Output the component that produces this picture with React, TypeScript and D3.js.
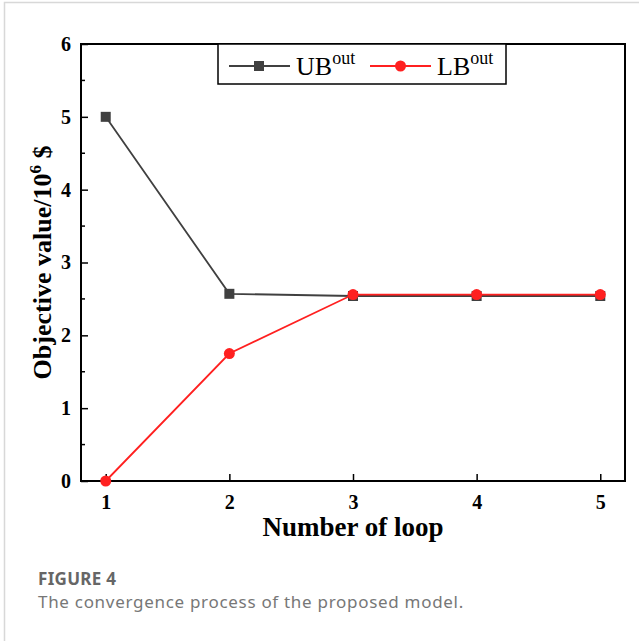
import React, { useRef, useEffect } from 'react';
import * as d3 from 'd3';

// chart data
const loops = [1, 2, 3, 4, 5];
const ubValues = [5, 2.57, 2.54, 2.54, 2.54];
const lbValues = [0, 1.75, 2.56, 2.56, 2.56];
const yTicks = [0, 1, 2, 3, 4, 5, 6];
const yMinorTicks = [0.5, 1.5, 2.5, 3.5, 4.5, 5.5];

const W = 639;
const H = 641;

const App = () => {
  const svgRef = useRef<SVGSVGElement>(null);

  useEffect(() => {
    const svg = d3.select(svgRef.current);
    svg.selectAll('*').remove();

    const margin = { top: 44, right: 14, bottom: 160, left: 81 };
    const width = W - margin.left - margin.right;
    const height = H - margin.top - margin.bottom;

    // frame of the figure panel
    svg.append('path')
      .attr('d', `M4.5,${H} V2.5 H${W}`)
      .attr('fill', 'none')
      .attr('stroke', '#d8d8d8')
      .attr('stroke-width', 1.5);

    const g = svg.append('g')
      .attr('transform', `translate(${margin.left},${margin.top})`);

    const x = d3.scaleLinear().domain([0.8, 5.2]).range([0, width]);
    const y = d3.scaleLinear().domain([0, 6]).range([height, 0]);

    const serif = '"Liberation Serif", "Times New Roman", serif';

    // x axis (ticks inward)
    const xAxis = g.append('g')
      .attr('transform', `translate(0,${height})`)
      .call(d3.axisBottom(x).tickValues(loops).tickSizeInner(-7).tickSizeOuter(0).tickPadding(14).tickFormat(d3.format('d')));
    xAxis.select('.domain').remove();

    // y axis (ticks inward)
    const yAxis = g.append('g')
      .call(d3.axisLeft(y).tickValues(yTicks).tickSizeInner(-7).tickSizeOuter(0).tickPadding(10).tickFormat(d3.format('d')));
    yAxis.select('.domain').remove();

    g.append('g')
      .selectAll('line')
      .data(yMinorTicks)
      .enter()
      .append('line')
      .attr('x1', 0)
      .attr('x2', 4)
      .attr('y1', d => y(d))
      .attr('y2', d => y(d))
      .attr('stroke', '#000')
      .attr('stroke-width', 1.5);

    [xAxis, yAxis].forEach(ax => {
      ax.selectAll('line').attr('stroke', '#000').attr('stroke-width', 1.5);
      ax.selectAll('text')
        .attr('fill', '#000')
        .style('font-family', serif)
        .style('font-size', '20px')
        .style('font-weight', 'bold');
    });

    // plot frame
    g.append('rect')
      .attr('x', 0)
      .attr('y', 0)
      .attr('width', width)
      .attr('height', height)
      .attr('fill', 'none')
      .attr('stroke', '#000')
      .attr('stroke-width', 2);

    const ubData = loops.map((l, i) => [l, ubValues[i]] as [number, number]);
    const lbData = loops.map((l, i) => [l, lbValues[i]] as [number, number]);

    const line = d3.line<[number, number]>()
      .x(d => x(d[0]))
      .y(d => y(d[1]));

    const ubColor = '#404040';
    const lbColor = '#ff2020';

    g.append('path')
      .datum(ubData)
      .attr('d', line)
      .attr('fill', 'none')
      .attr('stroke', ubColor)
      .attr('stroke-width', 1.8);

    g.append('path')
      .datum(lbData)
      .attr('d', line)
      .attr('fill', 'none')
      .attr('stroke', lbColor)
      .attr('stroke-width', 1.8);

    g.selectAll('rect.ub')
      .data(ubData)
      .enter()
      .append('rect')
      .attr('class', 'ub')
      .attr('x', d => x(d[0]) - 5)
      .attr('y', d => y(d[1]) - 5)
      .attr('width', 10)
      .attr('height', 10)
      .attr('fill', ubColor);

    g.selectAll('circle.lb')
      .data(lbData)
      .enter()
      .append('circle')
      .attr('class', 'lb')
      .attr('cx', d => x(d[0]))
      .attr('cy', d => y(d[1]))
      .attr('r', 5.5)
      .attr('fill', lbColor);

    // legend
    const lg = svg.append('g').attr('transform', 'translate(218,44)');
    lg.append('rect')
      .attr('width', 288)
      .attr('height', 40)
      .attr('fill', '#fff')
      .attr('stroke', '#000')
      .attr('stroke-width', 1.5);

    const items = [
      { name: 'UB', color: ubColor, shape: 'square', x0: 11 },
      { name: 'LB', color: lbColor, shape: 'circle', x0: 152 },
    ];
    items.forEach(it => {
      lg.append('line')
        .attr('x1', it.x0)
        .attr('x2', it.x0 + 61)
        .attr('y1', 22)
        .attr('y2', 22)
        .attr('stroke', it.color)
        .attr('stroke-width', 1.8);
      if (it.shape === 'square') {
        lg.append('rect')
          .attr('x', it.x0 + 25)
          .attr('y', 17)
          .attr('width', 10)
          .attr('height', 10)
          .attr('fill', it.color);
      } else {
        lg.append('circle')
          .attr('cx', it.x0 + 30.5)
          .attr('cy', 22)
          .attr('r', 5.5)
          .attr('fill', it.color);
      }
      const t = lg.append('text')
        .attr('x', it.x0 + 67)
        .attr('y', 31)
        .style('font-family', serif)
        .style('font-size', '26px')
        .attr('fill', '#000');
      t.append('tspan').text(it.name);
      t.append('tspan')
        .attr('dy', -11)
        .style('font-size', '18px')
        .text('out');
    });

    // axis titles
    svg.append('text')
      .attr('x', margin.left + x(3))
      .attr('y', 536)
      .attr('text-anchor', 'middle')
      .style('font-family', serif)
      .style('font-size', '27px')
      .style('font-weight', 'bold')
      .text('Number of loop');

    const yl = svg.append('text')
      .attr('transform', `translate(51,${margin.top + height / 2}) rotate(-90)`)
      .attr('text-anchor', 'middle')
      .style('font-family', serif)
      .style('font-size', '26px')
      .style('font-weight', 'bold');
    yl.append('tspan').text('Objective value/10');
    yl.append('tspan').attr('dy', -10).style('font-size', '17px').text('6');
    yl.append('tspan').attr('dy', 10).text(' $');

    // caption
    svg.append('text')
      .attr('x', 38)
      .attr('y', 585)
      .attr('fill', '#666')
      .style('font-family', '"Noto Sans", sans-serif')
      .style('font-size', '17px')
      .style('font-weight', 'bold')
      .style('letter-spacing', '0.3px')
      .text('FIGURE 4');

    svg.append('text')
      .attr('x', 38)
      .attr('y', 608)
      .attr('fill', '#777')
      .style('font-family', '"Noto Sans", sans-serif')
      .style('font-size', '17px')
      .style('letter-spacing', '0.7px')
      .text('The convergence process of the proposed model.');
  }, []);

  return (
    <svg
      ref={svgRef}
      width={W}
      height={H}
      style={{ position: 'absolute', left: 0, top: 0, background: '#fff' }}
    ></svg>
  );
};

export default App;
